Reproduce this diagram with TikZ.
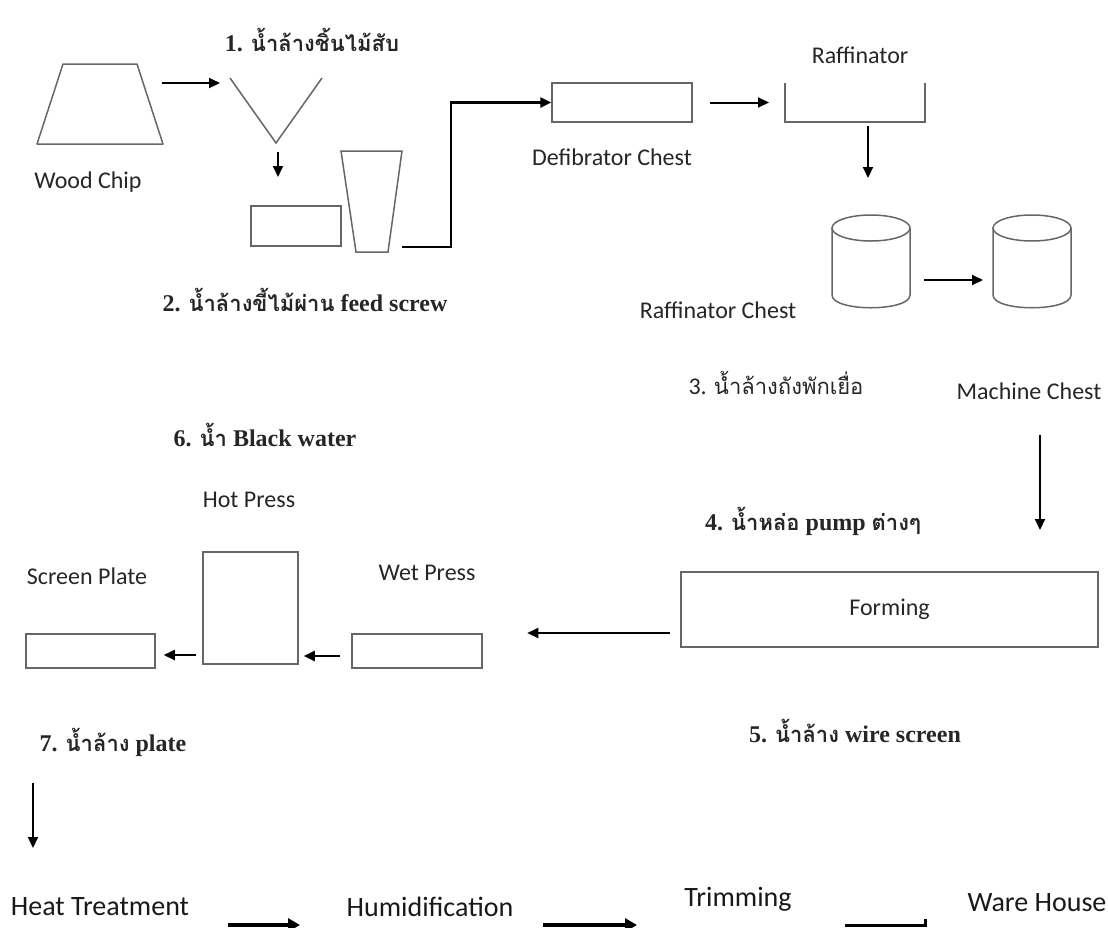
\documentclass[tikz,border=0pt]{standalone}
\usepackage{fontspec}
\usepackage{tikz}
\setmainfont{Liberation Serif}
\setsansfont{Carlito}
\newfontfamily\thaifont[Script=Thai]{Loma}
\newcommand\thw[1]{{\thaifont\bfseries\fontsize{22}{26}\selectfont #1}}
\usetikzlibrary{arrows.meta,calc}

\begin{document}
\begin{tikzpicture}[x=1pt,y=-1pt,
        unit/.style={draw=black!60, line width=1.5pt, inner sep=0pt},
        flow/.style={-{Triangle[length=11pt,width=10pt]}, line width=2pt},
        bigflow/.style={-{Triangle[length=12pt,width=13pt]}, line width=4pt},
        lbl/.style={font=\sffamily\fontsize{24}{28}\selectfont, text=black!85, inner sep=0pt},
        biglbl/.style={font=\sffamily\fontsize{28}{32}\selectfont, text=black!90, inner sep=0pt},
        water/.style={font=\bfseries\fontsize{24}{28}\selectfont, text=black!85, inner sep=0pt}]
        \useasboundingbox (0,0) rectangle (1108,927);

        % Wood chip and hopper
        \draw[unit, line join=round] (37,144) -- (63,64) -- (137,64) -- (163,144) -- cycle;
        \node[lbl] (chip) at (88,182) {Wood Chip};
        \coordinate (chipout) at (162,83);
        \draw[unit] (230,78) coordinate (hopL) -- (276,143) coordinate (hopB) -- (322,78) coordinate (hopR);
        \node[water] (w1) at (312,40) {1. \thw{น้ำล้างชิ้นไม้สับ}};
        \draw[flow] (chipout) -- ([xshift=-10pt]hopL |- chipout);
        \draw[flow] ([shift={(2,9)}]hopB) -- ++(0,25);

        % Feed screw
        \node[unit, minimum width=90pt, minimum height=40pt] (feed) at (296,226) {};
        \draw[unit] (341,151) -- (402,151) -- (388,252) -- (356,252) -- cycle;
        \coordinate (cupout) at (402,247);
        \node[water] (w2) at (305,300) {2. \thw{น้ำล้างขี้ไม้ผ่าน} feed screw};

        % Defibrator and raffinator
        \node[unit, minimum width=140pt, minimum height=39pt] (defib) at (622,102.5) {};
        \node[lbl] (defiblbl) at (612,157) {Defibrator Chest};
        \draw[flow, line width=2.4pt] (cupout) -| ([xshift=-100pt]defib.west) -- (defib.west);
        \draw[unit] (785,83) coordinate (rafL) -- (785,122) -- (925,122) -- (925,83) coordinate (rafR);
        \node[lbl] (raflbl) at (860,55) {Raffinator};
        \draw[flow] ([xshift=17pt]defib.east) -- ([xshift=-16pt]rafL |- defib.east);
        \coordinate (rafout) at (868,126);
        \draw[flow] (rafout) -- ++(0,52);

        % Chests
        \foreach \cx/\nm in {871/rchest, 1032/mchest} {
            \draw[unit] (\cx,228) ellipse [x radius=39, y radius=13];
            \draw[unit] (\cx-39,228) -- (\cx-39,295) .. controls (\cx-39,312) and (\cx+39,312) .. (\cx+39,295) -- (\cx+39,228);
            \coordinate (\nm) at (\cx,262);
        }
        \draw[flow] ([shift={(53,18)}]rchest) -- ([shift={(-49,18)}]mchest);
        \node[lbl] (rclbl) at (718,310) {Raffinator Chest};
        \node[lbl] (w3) at (776,383) {3. {\thaifont\fontsize{22}{26}\selectfont น้ำล้างถังพักเยื่อ}};
        \node[lbl] (mclbl) at (1029,391) {Machine Chest};
        \coordinate (mcout) at (1040,435);
        \draw[flow] (mcout) -- ++(0,95);

        % Forming
        \node[water] (w4) at (813,521) {4. \thw{น้ำหล่อ} pump \thw{ต่างๆ}};
        \node[unit, lbl, draw=black!60, minimum width=417pt, minimum height=75pt] (forming) at (889.5,609.5) {Forming};
        \draw[flow] ([shift={(-10,23.5)}]forming.west) -- ++(-143,0);
        \node[water] (w5) at (855,731) {5. \thw{น้ำล้าง} wire screen};

        % Presses
        \node[unit, minimum width=130pt, minimum height=34pt] (wet) at (417,651) {};
        \node[lbl] (wetlbl) at (427,573) {Wet Press};
        \node[unit, minimum width=95pt, minimum height=112pt] (hot) at (250.5,608) {};
        \node[lbl] (hotlbl) at (249,500) {Hot Press};
        \node[unit, minimum width=129pt, minimum height=34pt] (screen) at (90.5,651) {};
        \node[lbl] (screenlbl) at (87,576) {Screen Plate};
        \draw[flow] ([shift={(-11,5)}]wet.west) -- ([shift={(5,5)}]wet.west -| hot.east);
        \draw[flow] ([shift={(-6,4)}]hot.west |- screen.east) -- ([shift={(8,4)}]screen.east);
        \node[water] (w6) at (265,435) {6. \thw{น้ำ} Black water};
        \node[water] (w7) at (113,742) {7. \thw{น้ำล้าง} plate};
        \coordinate (plateout) at (33,783);
        \draw[flow] (plateout) -- ++(0,65);

        % Finishing line
        \node[biglbl] (heat) at (100,907) {Heat Treatment};
        \node[biglbl] (humid) at (430,907) {Humidification};
        \node[biglbl] (trim) at (738,899) {Trimming};
        \node[biglbl] (ware) at (1037,903) {Ware House};
        \draw[bigflow] ([shift={(128,18)}]heat.center) -- ++(72,0);
        \draw[bigflow] ([shift={(113,18)}]humid.center) -- ++(94,0);
        \draw[line width=3pt] ([shift={(107,26)}]trim.center) -- ++(80,0) -- ++(0,-6);
\end{tikzpicture}
\end{document}
